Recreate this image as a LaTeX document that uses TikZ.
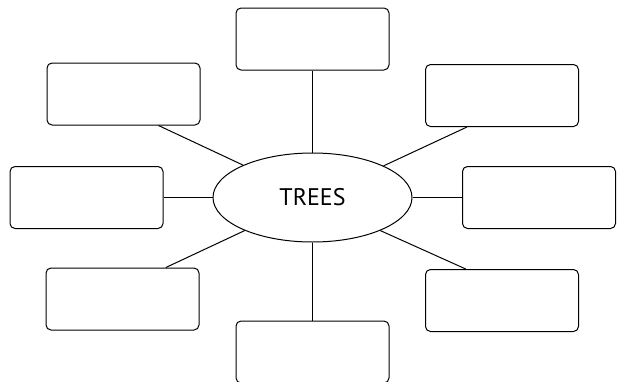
\documentclass[tikz,border=0pt]{standalone}
\usepackage{fontspec}
\setmainfont{PT Sans}
\usetikzlibrary{shapes.geometric, positioning}

\begin{document}
\begin{tikzpicture}[x=1pt, y=-1pt]
    \tikzstyle{block} = [rectangle, draw, line width=1pt, rounded corners=5pt, minimum width=153pt, minimum height=62pt, inner sep=0pt]
    \tikzstyle{hub} = [ellipse, draw, line width=1pt, minimum width=199pt, minimum height=89pt, inner sep=0pt, font=\fontsize{24}{28}\selectfont]
    \tikzstyle{link} = [line width=1pt]

    \clip (0,0) rectangle (619,381);

    % Centre
    \node[hub] (trees) at (312.5,197.5) {TREES};

    % Boxes around it
    \node[block] (top) at (312.5,39) {};
    \node[block] (upleft) at (123.5,94) {};
    \node[block] (upright) at (502,95.5) {};
    \node[block] (left) at (86.5,197.5) {};
    \node[block] (right) at (539,197.5) {};
    \node[block] (lowleft) at (122.5,299) {};
    \node[block] (lowright) at (502,300.5) {};
    \node[block] (bottom) at (312.5,352) {};

    \draw[link] (top) -- (trees);
    \draw[link] (upleft.-42) -- (trees.155);
    \draw[link] (upright.-138) -- (trees.24);
    \draw[link] (left) -- (trees);
    \draw[link] (right) -- (trees);
    \draw[link] (lowleft.36) -- (trees.206);
    \draw[link] (lowright.139) -- (trees.-26);
    \draw[link] (bottom) -- (trees);
\end{tikzpicture}
\end{document}
